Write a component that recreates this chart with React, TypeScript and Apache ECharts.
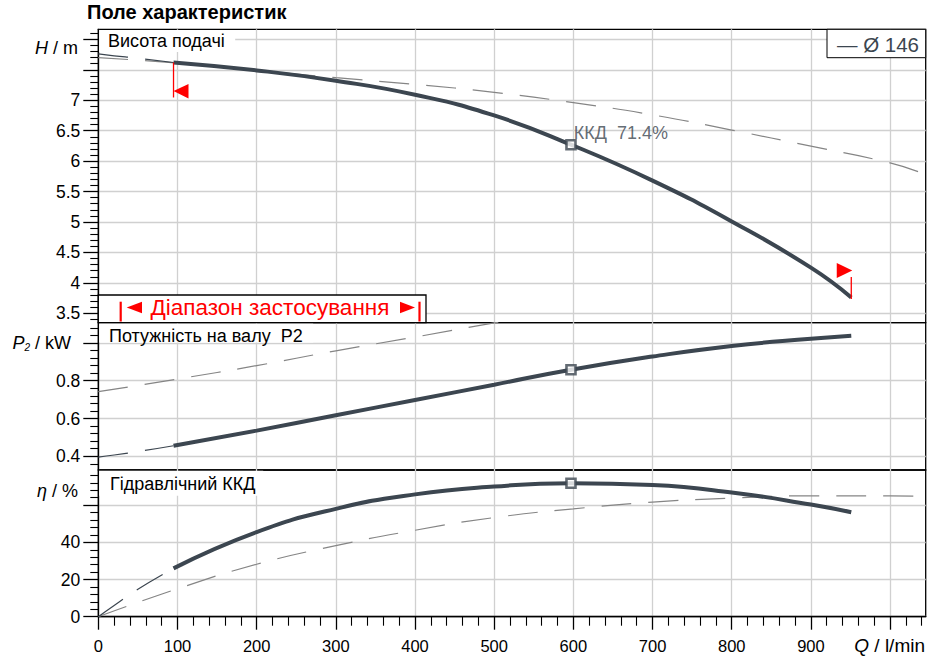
import React, { useEffect, useRef } from 'react';
import * as echarts from 'echarts';

// ---- data ----
const qExt = [0, 20, 50, 95];
const qMain = [95, 200, 300, 400, 500, 597, 700, 800, 900, 951];
const qRef = [0, 100, 200, 300, 400, 500, 600, 700, 800, 900, 1000, 1045];
const qRefP = [0, 100, 200, 300, 400, 500, 540];

const headExt = [7.76, 7.73, 7.69, 7.62];
const headMain = [7.62, 7.49, 7.32, 7.09, 6.75, 6.27, 5.68, 5.01, 4.25, 3.76];
const headRef = [7.7, 7.61, 7.49, 7.37, 7.26, 7.13, 6.96, 6.76, 6.51, 6.245, 5.97, 5.78];

const powerExt = [0.396, 0.407, 0.425, 0.456];
const powerMain = [0.456, 0.536, 0.617, 0.698, 0.779, 0.858, 0.928, 0.984, 1.022, 1.038];
const powerRef = [0.742, 0.809, 0.88, 0.958, 1.031, 1.106, 1.135];

const effExt = [0, 6.0, 14.8, 26.0];
const effMain = [26.0, 45.5, 58.0, 65.8, 70.0, 71.8, 70.8, 66.8, 60.3, 56.2];
const effRef = [0, 15.0, 28.2, 38.2, 46.5, 53.3, 58.0, 61.6, 63.8, 65.0, 65.0, 64.6];

const bepIndex = 5;
const bepLabel = 'ККД  71.4%';

// axis ticks / labels
const xTicks = [0, 100, 200, 300, 400, 500, 600, 700, 800, 900, 1000];
const xLabels = [0, 100, 200, 300, 400, 500, 600, 700, 800, 900];
const hTicks = [3.5, 4, 4.5, 5, 5.5, 6, 6.5, 7, 7.5, 8];
const hLabels = [3.5, 4, 4.5, 5, 5.5, 6, 6.5, 7];
const pTicks = [0.4, 0.6, 0.8, 1.0];
const pLabels = [0.4, 0.6, 0.8];
const eTicks = [0, 20, 40, 60];
const eLabels = [0, 20, 40];

const qMax = 1045;
const hRange = [3.346, 8.165];
const pRange = [0.3275, 1.107];
const eRange = [0, 78.9];

const font = '"Liberation Sans", Arial, sans-serif';
const dark = '#3c4650';
const grayDash = '#858585';
const red = '#ff0000';

const zip = (xs: number[], ys: number[]) => xs.map((x, i) => [x, ys[i]]);

export default function App() {
  const ref = useRef<HTMLDivElement>(null);

  useEffect(() => {
    if (!ref.current) return;
    const chart = echarts.init(ref.current, undefined, { renderer: 'svg' });

    const gridLine = { show: true, lineStyle: { color: '#d0d0d0', width: 1.3 } };

    const mkX = (gi: number, show: boolean) => ({
      type: 'value',
      gridIndex: gi,
      min: 0,
      max: qMax,
      splitNumber: 10,
      axisLine: { show, onZero: false, lineStyle: { color: '#000', width: 1.3 } },
      axisTick: { show, customValues: xTicks, length: 13, inside: false, lineStyle: { color: '#000', width: 1.3 } },
      minorTick: { show, splitNumber: 5, length: 9, lineStyle: { color: '#000', width: 1.1 } },
      axisLabel: { show, customValues: xLabels, margin: 21, fontSize: 16.5, color: '#000', fontFamily: font },
      splitLine: gridLine,
    });

    const mkY = (gi: number, range: number[], splitNumber: number, ticks: number[], labels: number[]) => ({
      type: 'value',
      gridIndex: gi,
      min: range[0],
      max: range[1],
      splitNumber,
      axisLine: { show: true, onZero: false, lineStyle: { color: '#000', width: 1.3 } },
      axisTick: { show: true, customValues: ticks, length: 15, inside: false, lineStyle: { color: '#000', width: 1.3 } },
      minorTick: { show: true, splitNumber: 5, length: 8, lineStyle: { color: '#000', width: 1.1 } },
      axisLabel: {
        customValues: labels,
        margin: 18,
        fontSize: 17.5,
        color: '#000',
        fontFamily: font,
        formatter: (v: number) => (labels.some((l) => Math.abs(l - v) < 1e-6) ? String(v) : ''),
      },
      splitLine: gridLine,
    });

    const lineSeries = (gi: number, data: number[][], kind: 'ref' | 'ext' | 'main') => ({
      type: 'line',
      xAxisIndex: gi,
      yAxisIndex: gi,
      data,
      symbol: 'none',
      smooth: 0.5,
      silent: true,
      z: kind === 'main' ? 4 : kind === 'ext' ? 3 : 2,
      lineStyle:
        kind === 'main'
          ? { color: dark, width: 4 }
          : kind === 'ext'
          ? { color: dark, width: 1.2, type: [30, 17] }
          : { color: grayDash, width: 1.2, type: [30, 17] },
    });

    const bep = (gi: number, y: number, withLabel: boolean) => ({
      type: 'scatter',
      xAxisIndex: gi,
      yAxisIndex: gi,
      data: [[qMain[bepIndex], y]],
      symbol: 'rect',
      symbolSize: 9,
      z: 6,
      silent: true,
      itemStyle: { color: '#fff', borderColor: dark, borderWidth: 2.6 },
      label: withLabel
        ? {
            show: true,
            position: 'right',
            offset: [-8, -12],
            formatter: bepLabel,
            fontSize: 18,
            color: dark,
            fontFamily: font,
          }
        : { show: false },
    });

    const last = qMain.length - 1;
    const redMarkers = {
      type: 'custom',
      xAxisIndex: 0,
      yAxisIndex: 0,
      z: 8,
      silent: true,
      data: [
        [qMain[0], headMain[0], 0],
        [qMain[last], headMain[last], 1],
      ],
      renderItem: (_params: any, api: any) => {
        const p = api.coord([api.value(0), api.value(1)]);
        const dir = api.value(2);
        if (dir === 0) {
          return {
            type: 'group',
            children: [
              { type: 'line', shape: { x1: p[0], y1: p[1], x2: p[0], y2: p[1] + 35 }, style: { stroke: red, lineWidth: 1.3 } },
              {
                type: 'polygon',
                shape: { points: [[p[0], p[1] + 28.5], [p[0] + 15, p[1] + 21.5], [p[0] + 15, p[1] + 36]] },
                style: { fill: red },
              },
            ],
          };
        }
        return {
          type: 'group',
          children: [
            { type: 'line', shape: { x1: p[0], y1: p[1] - 20.5, x2: p[0], y2: p[1] + 1.5 }, style: { stroke: red, lineWidth: 1.3 } },
            {
              type: 'polygon',
              shape: { points: [[p[0] + 1, p[1] - 27], [p[0] - 14.5, p[1] - 34.5], [p[0] - 14.5, p[1] - 19.5]] },
              style: { fill: red },
            },
          ],
        };
      },
    };

    const txt = (x: number, y: number, text: string, extra: any = {}) => ({
      type: 'text',
      x,
      y,
      z: 101,
      silent: true,
      style: {
        text,
        fontSize: 18,
        fontFamily: font,
        fill: '#000',
        align: 'left',
        verticalAlign: 'middle',
        ...extra,
      },
    });
    const italic = { fontStyle: 'italic', fontSize: 18, fontFamily: font, fill: '#000' };

    const option: any = {
      animation: false,
      backgroundColor: '#fff',
      grid: [
        { left: 98.3, right: 15.3, top: 29.3, height: 293.4, show: true, borderColor: '#000', borderWidth: 1.3 },
        { left: 98.3, right: 15.3, top: 322.7, height: 147.3, show: true, borderColor: '#000', borderWidth: 1.3 },
        { left: 98.3, right: 15.3, top: 470, height: 146.7, show: true, borderColor: '#000', borderWidth: 1.3 },
      ],
      xAxis: [mkX(0, false), mkX(1, false), mkX(2, true)],
      yAxis: [
        mkY(0, hRange, 10, hTicks, hLabels),
        mkY(1, pRange, 4, pTicks, pLabels),
        mkY(2, eRange, 4, eTicks, eLabels),
      ],
      series: [
        lineSeries(0, zip(qRef, headRef), 'ref'),
        lineSeries(0, zip(qExt, headExt), 'ext'),
        lineSeries(0, zip(qMain, headMain), 'main'),
        lineSeries(1, zip(qRefP, powerRef), 'ref'),
        lineSeries(1, zip(qExt, powerExt), 'ext'),
        lineSeries(1, zip(qMain, powerMain), 'main'),
        lineSeries(2, zip(qRef, effRef), 'ref'),
        lineSeries(2, zip(qExt, effExt), 'ext'),
        lineSeries(2, zip(qMain, effMain), 'main'),
        bep(0, headMain[bepIndex], true),
        bep(1, powerMain[bepIndex], false),
        bep(2, effMain[bepIndex], false),
        redMarkers,
      ],
      graphic: [
        txt(87, 12, 'Поле характеристик', { fontSize: 20, fontWeight: 'bold' }),
        // panel titles with white backing
        { type: 'rect', z: 100, silent: true, shape: { x: 99.2, y: 30.1, width: 136, height: 22 }, style: { fill: '#fff' } },
        txt(108, 41, 'Висота подачі'),
        { type: 'rect', z: 100, silent: true, shape: { x: 99.2, y: 323.5, width: 214, height: 19 }, style: { fill: '#fff' } },
        txt(109, 336, 'Потужність на валу  P2'),
        { type: 'rect', z: 100, silent: true, shape: { x: 99.2, y: 470.8, width: 164, height: 25 }, style: { fill: '#fff' } },
        txt(110, 484, 'Гідравлічний ККД'),
        // axis names
        txt(78, 48, '{i|H} / m', { align: 'right', rich: { i: italic } }),
        txt(71, 343, '{i|P}{s|2} / kW', {
          align: 'right',
          rich: { i: italic, s: { fontStyle: 'italic', fontSize: 10, fontFamily: font, fill: '#000', verticalAlign: 'bottom' } },
        }),
        txt(78, 491, '{i|η} / %', { align: 'right', rich: { i: italic } }),
        txt(925, 645, '{i|Q} / l/min', { align: 'right', fontSize: 19, rich: { i: { ...italic, fontSize: 19 } } }),
        // legend box
        { type: 'rect', z: 100, silent: true, shape: { x: 827, y: 29.3, width: 98.7, height: 28.4 }, style: { fill: '#fff', stroke: '#000', lineWidth: 1 } },
        txt(919, 44, '— Ø 146', { align: 'right', fontSize: 20.5, fill: dark }),
        // operating range box
        { type: 'rect', z: 100, silent: true, shape: { x: 98.3, y: 295, width: 327.7, height: 27.7 }, style: { fill: '#fff', stroke: '#000', lineWidth: 1.3 } },
        { type: 'line', z: 101, silent: true, shape: { x1: 120.7, y1: 301.7, x2: 120.7, y2: 321.5 }, style: { stroke: red, lineWidth: 2.2 } },
        { type: 'line', z: 101, silent: true, shape: { x1: 419.5, y1: 301.7, x2: 419.5, y2: 321.5 }, style: { stroke: red, lineWidth: 2.2 } },
        { type: 'polygon', z: 101, silent: true, shape: { points: [[126.7, 307.5], [142, 301.7], [142, 313.3]] }, style: { fill: red } },
        { type: 'polygon', z: 101, silent: true, shape: { points: [[415, 307.5], [400, 301.7], [400, 313.3]] }, style: { fill: red } },
        txt(270, 307.5, 'Діапазон застосування', { align: 'center', fontSize: 22.5, fill: red }),
      ],
    };

    chart.setOption(option);
    return () => chart.dispose();
  }, []);

  return (
    <div
      ref={ref}
      style={{ position: 'absolute', left: 0, top: 0, width: 941, height: 661, background: '#fff' }}
    />
  );
}
